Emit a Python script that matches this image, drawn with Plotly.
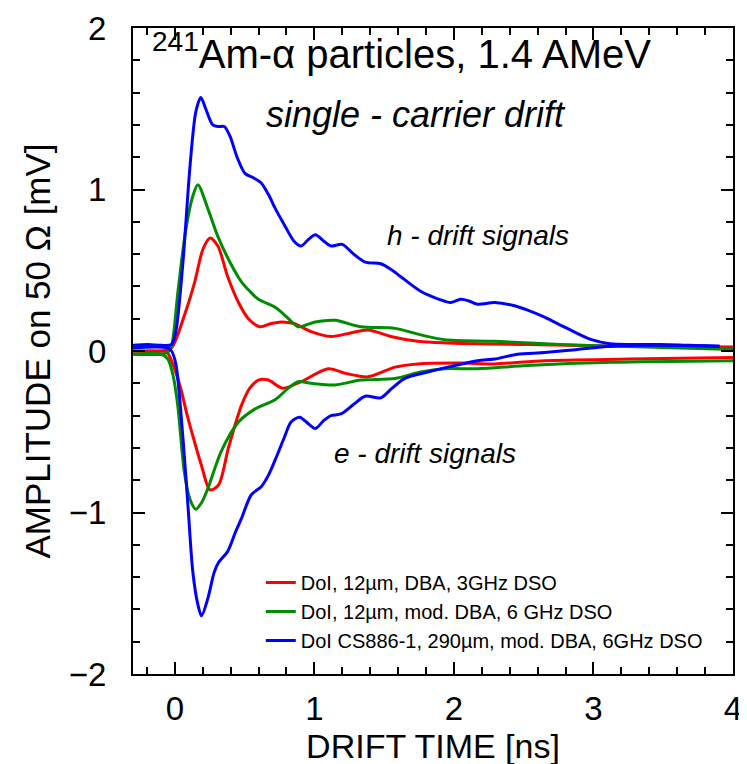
import plotly.graph_objects as go

# ---- data ----
t_blue_h = [-0.3, -0.197, -0.095, -0.024, 0.007, 0.058, 0.109, 0.15, 0.186, 0.221, 0.272, 0.313, 0.354, 0.395, 0.446, 0.502, 0.568, 0.619, 0.67, 0.721, 0.792, 0.854, 0.905, 0.956, 1.007, 1.068, 1.119, 1.2, 1.282, 1.364, 1.476, 1.557, 1.619, 1.761, 1.894, 1.976, 2.047, 2.108, 2.17, 2.292, 2.435, 2.537, 2.649, 2.812, 2.986, 3.118, 3.271, 3.475, 3.679, 3.904]
y_blue_h = [0.035, 0.04, 0.035, 0.04, 0.12, 0.55, 1.15, 1.48, 1.57, 1.50, 1.40, 1.39, 1.39, 1.33, 1.20, 1.10, 1.07, 1.04, 0.97, 0.88, 0.77, 0.68, 0.65, 0.69, 0.72, 0.68, 0.65, 0.66, 0.60, 0.55, 0.54, 0.50, 0.46, 0.37, 0.32, 0.30, 0.32, 0.31, 0.29, 0.30, 0.28, 0.25, 0.21, 0.14, 0.07, 0.045, 0.04, 0.04, 0.035, 0.03]

t_blue_e = [-0.3, -0.146, -0.054, -0.024, 0.007, 0.058, 0.094, 0.129, 0.165, 0.191, 0.237, 0.282, 0.313, 0.379, 0.435, 0.476, 0.548, 0.619, 0.67, 0.721, 0.782, 0.833, 0.894, 0.956, 1.007, 1.068, 1.119, 1.19, 1.282, 1.364, 1.476, 1.557, 1.649, 1.813, 1.955, 2.17, 2.292, 2.455, 2.649, 2.884, 3.128, 3.475, 3.904]
y_blue_e = [0.02, 0.025, 0.02, 0.0, -0.08, -0.54, -0.96, -1.37, -1.57, -1.64, -1.53, -1.37, -1.31, -1.24, -1.12, -1.04, -0.89, -0.84, -0.77, -0.67, -0.54, -0.44, -0.41, -0.45, -0.48, -0.43, -0.40, -0.39, -0.33, -0.28, -0.29, -0.23, -0.17, -0.13, -0.10, -0.06, -0.05, -0.02, -0.01, 0.01, 0.03, 0.035, 0.03]

t_red_h = [-0.3, -0.095, -0.024, 0.068, 0.14, 0.201, 0.252, 0.308, 0.379, 0.456, 0.527, 0.609, 0.69, 0.762, 0.854, 0.976, 1.119, 1.251, 1.384, 1.547, 1.741, 1.945, 2.527, 3.271, 4.0]
y_red_h = [0.0, 0.0, 0.02, 0.22, 0.42, 0.63, 0.70, 0.65, 0.46, 0.30, 0.20, 0.15, 0.17, 0.18, 0.17, 0.12, 0.09, 0.11, 0.13, 0.09, 0.06, 0.05, 0.04, 0.03, 0.025]

t_red_e = [-0.3, -0.095, -0.054, -0.024, 0.038, 0.089, 0.14, 0.191, 0.252, 0.313, 0.384, 0.476, 0.537, 0.599, 0.67, 0.772, 0.905, 1.098, 1.231, 1.384, 1.578, 1.741, 2.047, 2.292, 2.649, 3.251, 4.0]
y_red_e = [0.0, 0.0, -0.01, -0.06, -0.22, -0.40, -0.56, -0.71, -0.86, -0.83, -0.60, -0.34, -0.23, -0.18, -0.18, -0.23, -0.19, -0.11, -0.14, -0.16, -0.10, -0.08, -0.075, -0.08, -0.06, -0.05, -0.04]

t_green_h = [-0.3, -0.095, -0.054, -0.024, 0.021, 0.078, 0.129, 0.165, 0.237, 0.308, 0.395, 0.476, 0.537, 0.599, 0.721, 0.803, 0.884, 1.007, 1.149, 1.333, 1.578, 1.761, 1.935, 2.292, 2.761, 3.373, 4.0]
y_green_h = [-0.02, -0.02, -0.01, 0.03, 0.36, 0.75, 0.96, 1.03, 0.88, 0.71, 0.55, 0.43, 0.37, 0.32, 0.27, 0.21, 0.15, 0.18, 0.19, 0.15, 0.14, 0.10, 0.07, 0.06, 0.04, 0.025, 0.01]

t_green_e = [-0.3, -0.095, -0.05, -0.013, 0.021, 0.068, 0.109, 0.15, 0.191, 0.237, 0.333, 0.456, 0.573, 0.721, 0.813, 0.884, 0.976, 1.149, 1.333, 1.578, 1.761, 1.935, 2.17, 2.527, 3.128, 4.0]
y_green_e = [-0.02, -0.02, -0.05, -0.15, -0.34, -0.75, -0.92, -0.98, -0.94, -0.85, -0.62, -0.44, -0.36, -0.30, -0.23, -0.19, -0.20, -0.21, -0.18, -0.17, -0.13, -0.11, -0.11, -0.09, -0.07, -0.06]

x_ticks = [0, 1, 2, 3, 4]
y_ticks = [-2, -1, 0, 1, 2]

names = ["DoI, 12µm, DBA, 3GHz DSO",
         "DoI, 12µm, mod. DBA, 6 GHz DSO",
         "DoI CS886-1, 290µm, mod. DBA, 6GHz DSO"]
colors = ["#ff0000", "#008c00", "#0000ff"]

series = [
    (t_red_h, y_red_h, t_red_e, y_red_e),
    (t_green_h, y_green_h, t_green_e, y_green_e),
    (t_blue_h, y_blue_h, t_blue_e, y_blue_e),
]

FONT = "Liberation Sans, Arial, sans-serif"

fig = go.Figure()
for (th, yh, te, ye), name, col in zip(series, names, colors):
    fig.add_trace(go.Scatter(x=th, y=yh, mode="lines", name=name,
                             line=dict(color=col, width=3, shape="spline", smoothing=0.8)))
    fig.add_trace(go.Scatter(x=te, y=ye, mode="lines", name=name,
                             showlegend=False,
                             line=dict(color=col, width=3, shape="spline", smoothing=0.8)))

axis_common = dict(showline=True, linecolor="black", linewidth=2, mirror="ticks",
                   ticks="inside", ticklen=12, tickwidth=2, tickcolor="black",
                   showgrid=False, zeroline=False, automargin=False,
                   ticklabeloverflow="allow",
                   tickfont=dict(family=FONT, size=33, color="black"),
                   minor=dict(ticks="inside", ticklen=7, tickwidth=1.5, tickcolor="black", showgrid=False))

fig.update_xaxes(range=[-0.3, 4.0], tickvals=x_ticks, minor_dtick=0.2, minor_tick0=0,
                 ticklabelstandoff=4,
                 title=dict(text="DRIFT TIME [ns]", font=dict(family=FONT, size=34, color="black"), standoff=0),
                 **axis_common)
fig.update_yaxes(range=[-2, 2], tickvals=y_ticks, minor_dtick=0.2, minor_tick0=0,
                 ticklabelstandoff=18,
                 title=dict(text="AMPLITUDE on 50 Ω [mV]", font=dict(family=FONT, size=35, color="black"), standoff=8),
                 **axis_common)

annos = [
    dict(x=0.028, y=0.964, xanchor="left", yanchor="middle",
         text="<sup>241</sup>Am-α particles, 1.4 AMeV", font=dict(family=FONT, size=40, color="black")),
    dict(x=0.472, y=0.866, xanchor="center", yanchor="middle",
         text="<i>single - carrier drift</i>", font=dict(family=FONT, size=36, color="black")),
    dict(x=0.575, y=0.679, xanchor="center", yanchor="middle",
         text="<i>h - drift signals</i>", font=dict(family=FONT, size=28, color="black")),
    dict(x=0.487, y=0.341, xanchor="center", yanchor="middle",
         text="<i>e - drift signals</i>", font=dict(family=FONT, size=28, color="black")),
]
for a in annos:
    a.update(xref="paper", yref="paper", showarrow=False)

fig.update_layout(
    width=747, height=764,
    margin=dict(l=125, r=22, t=20, b=98),
    plot_bgcolor="white", paper_bgcolor="white",
    annotations=annos,
    legend=dict(x=0.213, y=0.172, xanchor="left", yanchor="top",
                font=dict(family=FONT, size=20, color="black"),
                bgcolor="rgba(0,0,0,0)", tracegroupgap=0),
)

fig.write_html("out.html")
